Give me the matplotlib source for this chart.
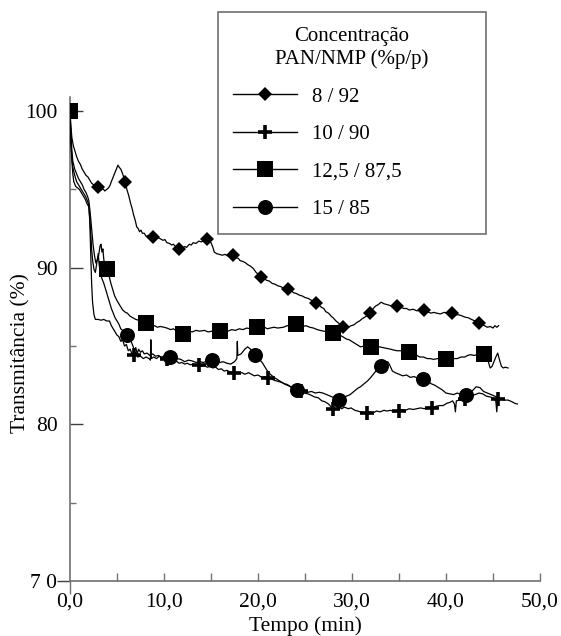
import matplotlib
matplotlib.use("Agg")
import matplotlib.pyplot as plt
from matplotlib.lines import Line2D, TICKLEFT, TICKDOWN
import numpy as np

plt.rcParams['font.family'] = ['Liberation Serif', 'DejaVu Serif']
plt.rcParams['mathtext.fontset'] = 'stix'

# ---------------- data ----------------
labels = ["8 / 92", "10 / 90", "12,5 / 87,5", "15 / 85"]
legend_title = "Concentração\nPAN/NMP (%p/p)"
xlabel = "Tempo (min)"
ylabel = "Transmitância (%)"
xticks = [0, 10, 20, 30, 40, 50]
xticklabels = ["0,0", "10,0", "20,0", "30,0", "40,0", "50,0"]
yticks = [70, 80, 90, 100]
yticklabels = ["7 0", "80", "90", "100"]

s1 = [(0.0,100.0),(0.1,99.0),(0.2,98.3),(0.35,97.8),(0.5,97.5),(0.7,97.1),(0.9,96.8),(1.1,96.6),(1.3,96.3),
      (1.5,96.1),(1.7,95.9),(1.9,95.8),(2.1,95.6),(2.3,95.4),(2.5,95.3),(2.7,95.2),(2.9,95.1),(3.1,95.0),
      (3.3,94.95),(3.5,95.05),(3.7,94.9),(3.9,95.0),(4.1,95.1),(4.25,95.25),(4.4,95.5),(4.6,95.8),(4.8,96.1),
      (5.0,96.4),(5.1,96.55),(5.25,96.4),(5.4,96.3),(5.6,96.0),(5.85,95.5),(6.05,95.0),(6.25,94.6),(6.45,94.1),
      (6.6,93.8),(6.8,93.3),(6.95,93.0),(7.1,92.6),(7.25,92.5),(7.4,92.3),(7.55,92.4),(7.7,92.2),(7.9,92.2),
      (8.1,92.0),(8.3,92.05),(8.5,91.95),(8.83,91.95),(9.1,91.9),(9.3,91.95),(9.6,91.85),(9.9,91.75),(10.1,91.8),
      (10.3,91.6),(10.6,91.55),(10.8,91.45),(11.0,91.5),(11.3,91.3),(11.6,91.2),(11.9,91.25),(12.2,91.35),
      (12.4,91.3),(12.7,91.5),(12.9,91.45),(13.1,91.6),(13.4,91.55),(13.7,91.7),(14.0,91.65),(14.3,91.75),
      (14.57,91.83),(14.8,91.7),(15.0,91.6),(15.2,91.3),(15.35,91.0),(15.6,90.9),(15.9,90.85),(16.2,90.8),
      (16.5,90.85),(16.8,90.75),(17.1,90.8),(17.34,90.8),(17.6,90.65),(17.9,90.6),(18.1,90.45),(18.4,90.4),
      (18.7,90.3),(18.9,90.2),(19.2,90.1),(19.5,89.95),(19.8,89.7),(20.0,89.6),(20.3,89.4),(20.6,89.35),
      (20.9,89.2),(21.2,89.15),(21.5,89.0),(21.8,88.95),(22.1,88.85),(22.4,88.8),(22.7,88.7),(23.0,88.7),
      (23.2,88.6),(23.5,88.55),(23.8,88.4),(24.1,88.35),(24.4,88.25),(24.7,88.2),(25.0,88.1),(25.3,88.05),
      (25.6,87.95),(25.9,87.85),(26.2,87.75),(26.5,87.6),(26.8,87.45),(27.0,87.4),(27.2,87.2),(27.5,87.1),
      (27.8,86.9),(28.0,86.8),(28.3,86.6),(28.6,86.45),(29.0,86.2),(29.3,86.25),(29.6,86.2),(29.9,86.3),
      (30.2,86.35),(30.5,86.5),(30.8,86.6),(31.1,86.75),(31.5,86.9),(31.9,87.1),(32.2,87.35),(32.5,87.55),
      (32.8,87.65),(33.1,87.8),(33.4,87.7),(33.7,87.65),(34.0,87.6),(34.4,87.5),(34.8,87.55),(35.1,87.5),
      (35.5,87.4),(35.8,87.4),(36.1,87.3),(36.5,87.35),(36.9,87.25),(37.3,87.3),(37.7,87.3),(38.0,87.2),
      (38.4,87.1),(38.7,87.15),(39.0,87.1),(39.4,87.05),(39.8,87.15),(40.2,87.1),(40.6,87.1),(40.9,87.0),
      (41.3,87.0),(41.6,86.95),(42.0,86.85),(42.4,86.8),(42.7,86.7),(43.1,86.6),(43.5,86.5),(43.8,86.4),
      (44.1,86.3),(44.4,86.2),(44.7,86.25),(45.0,86.15),(45.2,86.3),(45.4,86.2),(45.6,86.3)]

s2 = [(0.0,100.0),(0.1,98.0),(0.2,96.8),(0.3,96.0),(0.4,95.5),(0.6,95.2),(0.8,95.1),(1.0,95.0),(1.2,94.8),
      (1.4,94.6),(1.6,94.4),(1.8,94.1),(2.0,93.9),(2.1,93.0),(2.2,91.0),(2.3,89.0),(2.4,87.8),(2.55,87.0),
      (2.7,86.7),(3.0,86.7),(3.3,86.65),(3.6,86.7),(3.9,86.6),(4.2,86.6),(4.4,86.3),(4.6,86.1),(4.8,85.9),
      (5.0,85.7),(5.2,85.6),(5.4,85.3),(5.6,85.4),(5.8,85.0),(6.0,85.1),(6.2,84.7),(6.4,84.8),(6.6,84.5),
      (6.8,84.4),(7.0,84.6),(7.2,84.3),(7.5,84.35),(7.8,84.2),(8.1,84.3),(8.4,84.2),(8.55,84.1),(8.6,85.4),
      (8.65,84.2),(8.9,84.3),(9.2,84.2),(9.5,84.35),(9.8,84.2),(10.1,84.3),(10.4,84.15),(10.7,84.1),(11.0,84.0),
      (11.3,84.05),(11.6,83.9),(11.9,83.95),(12.2,83.85),(12.5,83.9),(12.8,83.8),(13.1,83.85),(13.4,83.75),
      (13.7,83.8),(14.0,83.7),(14.3,83.75),(14.6,83.65),(14.9,83.7),(15.2,83.6),(15.5,83.65),(15.8,83.5),
      (16.1,83.55),(16.4,83.4),(16.7,83.45),(17.0,83.35),(17.4,83.3),(17.7,83.35),(18.0,83.25),(18.3,83.3),
      (18.6,83.2),(19.0,83.3),(19.3,83.2),(19.6,83.1),(20.0,83.15),(20.4,83.0),(20.7,83.05),(21.1,82.95),
      (21.4,82.9),(21.8,82.8),(22.1,82.75),(22.4,82.7),(22.8,82.6),(23.1,82.55),(23.5,82.4),(23.8,82.35),
      (24.2,82.2),(24.6,82.15),(24.9,82.0),(25.3,81.95),(25.7,81.85),(26.0,81.75),(26.4,81.7),(26.8,81.5),
      (27.1,81.45),(27.5,81.3),(27.8,81.1),(28.0,80.95),(28.3,81.0),(28.6,81.1),(28.9,81.0),(29.2,81.1),
      (29.6,81.0),(29.9,81.05),(30.3,80.9),(30.6,80.85),(30.9,80.8),(31.3,80.75),(31.6,80.7),(31.9,80.8),
      (32.3,80.75),(32.6,80.85),(33.0,80.8),(33.4,80.9),(33.7,80.85),(34.1,80.9),(34.5,80.8),(35.0,80.85),
      (35.3,80.95),(35.7,80.9),(36.1,81.0),(36.5,80.95),(36.9,81.0),(37.3,81.05),(37.7,81.0),(38.1,81.1),
      (38.5,81.05),(38.9,81.15),(39.3,81.2),(39.7,81.2),(40.1,81.35),(40.4,81.4),(40.7,81.5),(40.9,81.3),
      (41.0,80.8),(41.1,81.5),(41.5,81.55),(41.9,81.6),(42.3,81.7),(42.7,81.85),(43.1,81.9),(43.5,82.0),
      (43.9,81.95),(44.3,81.8),(44.7,81.75),(45.0,81.7),(45.3,81.5),(45.4,80.8),(45.5,81.6),(45.8,81.65),
      (46.2,81.55),(46.6,81.55),(47.0,81.45),(47.3,81.35),(47.6,81.3)]

s3 = [(0.0,100.0),(0.1,98.5),(0.2,97.5),(0.3,96.8),(0.5,96.3),(0.7,96.0),(0.9,95.7),(1.1,95.5),(1.3,95.3),
      (1.5,95.0),(1.7,94.8),(1.9,94.5),(2.0,94.3),(2.15,93.5),(2.3,92.5),(2.45,91.5),(2.6,90.8),(2.75,90.3),
      (2.9,90.5),(3.05,90.8),(3.2,91.4),(3.3,91.5),(3.4,91.0),(3.5,91.2),(3.6,90.5),(3.75,90.1),(3.95,89.9),
      (4.15,89.5),(4.35,89.0),(4.55,88.6),(4.75,88.2),(5.0,87.9),(5.3,87.6),(5.6,87.3),(5.9,87.15),(6.1,87.1),
      (6.4,86.9),(6.7,86.8),(7.0,86.7),(7.3,86.65),(7.6,86.5),(8.05,86.45),(8.4,86.4),(8.7,86.25),(9.0,86.3),
      (9.3,86.2),(9.6,86.25),(10.0,86.2),(10.3,86.15),(10.7,86.05),(11.0,86.1),(11.4,85.95),(11.7,85.85),
      (12.0,85.8),(12.4,85.9),(12.7,85.95),(13.0,85.9),(13.4,86.0),(13.8,85.95),(14.3,86.0),(14.7,85.9),
      (15.1,85.95),(15.5,85.9),(16.0,85.95),(16.4,86.0),(16.8,85.95),(17.2,86.05),(17.6,86.0),(18.0,86.1),
      (18.4,86.05),(18.8,86.15),(19.2,86.1),(19.6,86.2),(19.9,86.2),(20.3,86.15),(20.7,86.2),(21.0,86.1),
      (21.3,86.15),(21.7,86.2),(22.1,86.15),(22.7,86.2),(23.1,86.3),(23.5,86.3),(24.0,86.4),(24.4,86.3),
      (24.8,86.25),(25.1,86.3),(25.5,86.2),(25.9,86.15),(26.3,86.05),(26.6,86.0),(27.0,85.95),(27.5,85.9),
      (28.0,85.85),(28.4,85.75),(28.7,85.7),(29.0,85.6),(29.4,85.45),(29.7,85.4),(30.1,85.25),(30.5,85.1),
      (30.9,84.95),(31.3,85.0),(31.6,84.95),(32.0,84.95),(32.4,84.9),(32.9,84.95),(33.3,84.9),(33.7,84.85),
      (34.1,84.8),(34.4,84.75),(34.8,84.7),(35.2,84.7),(35.6,84.65),(36.1,84.6),(36.5,84.5),(36.9,84.4),
      (37.2,84.3),(37.6,84.3),(38.0,84.2),(38.3,84.2),(38.7,84.15),(39.1,84.2),(39.5,84.15),(40.0,84.2),
      (40.4,84.25),(40.8,84.2),(41.2,84.2),(41.6,84.3),(42.0,84.3),(42.3,84.4),(42.6,84.45),(43.0,84.4),
      (43.5,84.5),(44.0,84.5),(44.3,84.4),(44.5,84.0),(44.7,83.6),(44.9,83.7),(45.1,84.0),(45.3,84.3),
      (45.5,84.55),(45.7,84.1),(45.9,83.7),(46.1,83.6),(46.3,83.65),(46.6,83.6)]

s4 = [(0.0,100.0),(0.1,98.0),(0.2,97.0),(0.3,96.4),(0.5,95.9),(0.7,95.5),(0.9,95.3),(1.1,95.1),(1.3,94.9),
      (1.5,94.7),(1.7,94.5),(1.9,94.2),(2.0,94.0),(2.1,93.2),(2.2,92.3),(2.3,91.2),(2.4,90.5),(2.55,89.9),
      (2.7,89.7),(2.85,90.3),(3.0,90.9),(3.1,90.2),(3.25,89.6),(3.4,89.3),(3.6,89.0),(3.8,88.6),(4.0,88.2),
      (4.2,87.8),(4.4,87.4),(4.6,87.1),(4.8,86.8),(5.0,86.6),(5.2,86.4),(5.4,86.1),(5.6,86.0),(5.8,85.8),
      (6.1,85.7),(6.3,85.5),(6.5,85.3),(6.7,85.0),(6.85,84.7),(7.0,84.9),(7.15,84.5),(7.3,84.8),(7.5,84.6),
      (7.7,84.7),(7.9,84.5),(8.2,84.55),(8.5,84.4),(8.8,84.5),(9.1,84.35),(9.4,84.4),(9.7,84.3),(10.0,84.35),
      (10.6,84.3),(11.0,84.25),(11.4,84.2),(11.8,84.15),(12.2,84.0),(12.6,84.1),(13.0,84.05),(13.4,83.95),
      (13.8,84.0),(14.2,83.95),(14.6,84.05),(15.1,84.1),(15.5,84.0),(15.9,83.95),(16.3,84.0),(16.7,83.9),
      (17.1,83.85),(17.5,84.0),(17.75,84.2),(17.8,85.3),(17.85,84.4),(18.2,84.5),(18.6,84.8),(18.9,84.95),
      (19.2,84.8),(19.7,84.4),(20.1,84.2),(20.5,83.9),(20.9,83.5),(21.3,83.2),(21.7,83.0),(22.1,82.85),
      (22.5,82.7),(22.9,82.55),(23.3,82.45),(23.7,82.3),(24.1,82.2),(24.5,82.15),(24.9,82.1),(25.3,82.05),
      (25.7,82.1),(26.1,82.0),(26.5,82.05),(26.9,82.0),(27.3,81.9),(27.7,81.8),(28.1,81.7),(28.6,81.55),
      (29.0,81.6),(29.4,81.8),(29.8,81.9),(30.2,82.1),(30.6,82.3),(30.9,82.4),(31.3,82.6),(31.7,82.8),
      (32.0,83.0),(32.4,83.3),(32.7,83.5),(33.1,83.7),(33.5,83.9),(33.8,84.0),(34.0,83.8),(34.3,83.4),
      (34.6,83.3),(35.0,83.2),(35.4,83.1),(35.8,83.15),(36.2,83.0),(36.6,83.05),(37.0,82.95),(37.6,82.9),
      (38.0,82.8),(38.4,82.6),(38.8,82.5),(39.2,82.35),(39.6,82.2),(40.0,82.0),(40.4,81.95),(40.8,81.9),
      (41.2,82.0),(41.6,81.9),(42.1,81.9),(42.5,82.0),(42.9,82.2),(43.2,82.4),(43.6,82.35),(44.0,82.1),
      (44.4,82.0),(44.8,81.9),(45.2,81.8),(45.6,81.7),(46.0,81.6)]

m1_x = [0, 2.98, 5.85, 8.83, 11.6, 14.57, 17.34, 20.3, 23.2, 26.2, 29.0, 31.9, 34.8, 37.7, 40.6, 43.5]
m1_y = [100, 95.15, 95.47, 91.96, 91.19, 91.83, 90.81, 89.4, 88.64, 87.75, 86.2, 87.1, 87.56, 87.3, 87.1, 86.47]
m2_x = [0, 6.8, 10.3, 13.7, 17.4, 21.1, 24.6, 28.0, 31.6, 35.0, 38.5, 42.0, 45.5]
m2_y = [100, 84.4, 84.2, 83.8, 83.3, 82.95, 82.15, 80.95, 80.7, 80.85, 81.05, 81.6, 81.6]
m3_x = [0, 3.95, 8.05, 12.0, 16.0, 19.9, 24.0, 28.0, 32.0, 36.1, 40.0, 44.0]
m3_y = [100, 89.9, 86.45, 85.8, 85.95, 86.2, 86.4, 85.85, 84.95, 84.6, 84.2, 84.5]
m4_x = [6.1, 10.6, 15.1, 19.7, 24.1, 28.6, 33.1, 37.6, 42.1]
m4_y = [85.7, 84.3, 84.1, 84.4, 82.2, 81.55, 83.7, 82.9, 81.9]

# ---------------- styles ----------------
W, H = 561, 636
fig = plt.figure(figsize=(W / 100, H / 100), dpi=100)
ax = fig.add_axes([70 / W, 1 - 581 / H, 470 / W, (581 - 97) / H])

styles = [dict(marker='D', ms=7.6, mew=0),
          dict(marker='+', ms=9.5, mew=2.6),
          dict(marker='s', ms=11.5, mew=0),
          dict(marker='o', ms=10.8, mew=0)]

series = [s1, s2, s3, s4]
marks = [(m1_x, m1_y), (m2_x, m2_y), (m3_x, m3_y), (m4_x, m4_y)]
handles = []
for i, (s, (mx, my), st) in enumerate(zip(series, marks, styles)):
    arr = np.array(s)
    ax.plot(arr[:, 0], arr[:, 1], color='black', lw=0.9, zorder=2 + i)
    ax.plot(mx, my, linestyle='none', color='black', zorder=6 + i, **st)
    handles.append(Line2D([], [], color='black', lw=1.0, **st))

ax.set_xlim(0, 50)
ax.set_ylim(70, 100.9)

for side in ['top', 'right']:
    ax.spines[side].set_visible(False)
for side in ['left', 'bottom']:
    ax.spines[side].set_color('#707070')
    ax.spines[side].set_linewidth(1.2)

ax.set_xticks(xticks)
ax.set_xticklabels(xticklabels)
ax.set_xticks(np.arange(5, 50, 10), minor=True)
ax.set_yticks(yticks)
ax.set_yticklabels(yticklabels)
ax.set_yticks([75, 85, 95], minor=True)

ax.tick_params(axis='x', which='both', direction='in', length=6, width=1.0,
               color='#707070', labelsize=15.5, pad=8)
ax.tick_params(axis='y', which='major', direction='in', length=9, width=1.0,
               color='#404040', labelsize=15.5, pad=9)
ax.tick_params(axis='y', which='minor', direction='in', length=4, width=1.0,
               color='#707070')

# cross at origin
yt0 = ax.yaxis.get_major_ticks()[0]
yt0.tick1line.set_marker(TICKLEFT)
yt0.tick1line.set_markersize(9.5)
yt0.tick1line.set_color('#707070')
xt0 = ax.xaxis.get_major_ticks()[0]
xt0.tick1line.set_marker(TICKDOWN)
xt0.tick1line.set_markersize(9)

ax.set_xlabel(xlabel, fontsize=15.5, labelpad=4)
ax.set_ylabel(ylabel, fontsize=15.5)
ax.yaxis.set_label_coords(-0.085, 0.47)

leg = fig.legend(handles, labels, title=legend_title, loc='upper left',
                 bbox_to_anchor=(218 / W, 1 - 12 / H, 268 / W, 0), mode='expand',
                 borderaxespad=0, fancybox=False, frameon=True, fontsize=15,
                 title_fontsize=15, handlelength=3.1, handletextpad=0.7,
                 labelspacing=0.86, borderpad=0.7)
leg.get_title().set_multialignment('center')
leg.get_title().set_linespacing(1.25)
fr = leg.get_frame()
fr.set_edgecolor('#707070')
fr.set_linewidth(1.2)
fr.set_alpha(1)

fig.savefig('out.png', dpi=100)
